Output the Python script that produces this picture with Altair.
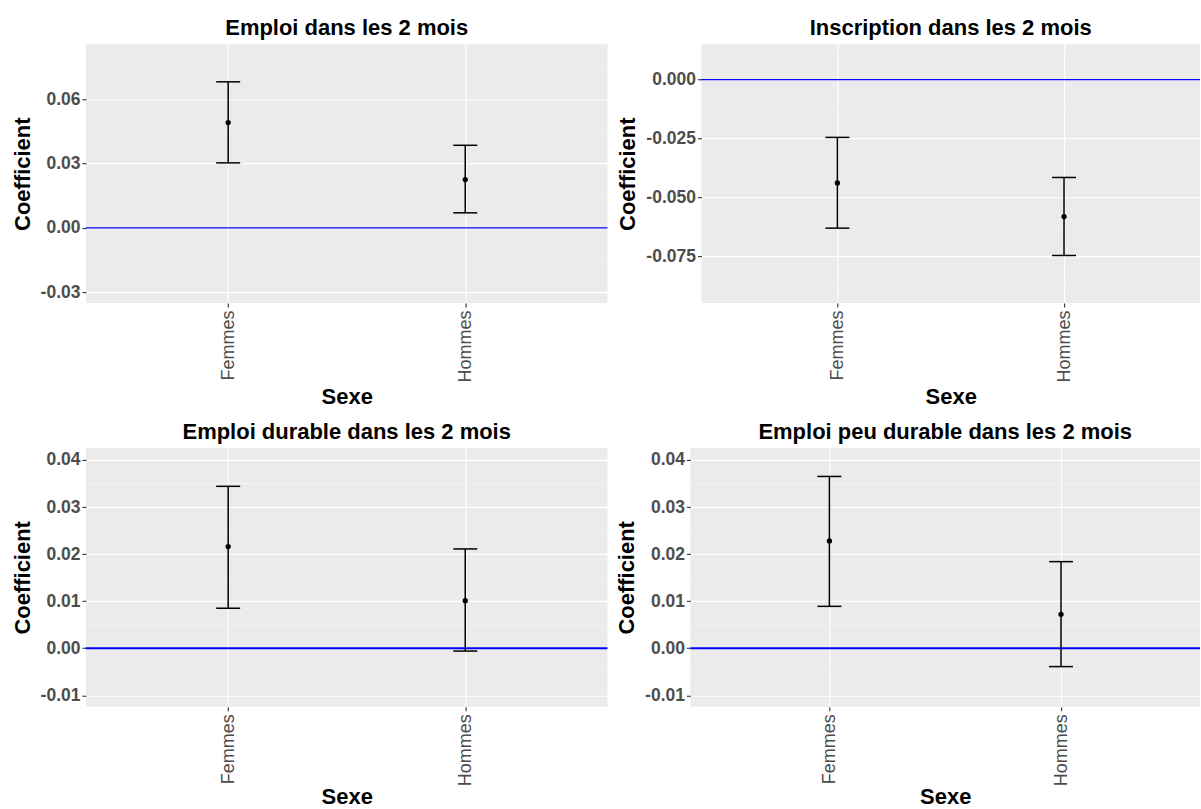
import altair as alt
import pandas as pd

FONT = "Liberation Sans"

sexe = ["Femmes", "Hommes"]

titles = [
    "Emploi dans les 2 mois",
    "Inscription dans les 2 mois",
    "Emploi durable dans les 2 mois",
    "Emploi peu durable dans les 2 mois",
]

# point estimates and confidence bounds, per outcome (Femmes, Hommes)
coef_emploi = [0.0491, 0.0225]
low_emploi = [0.0303, 0.0070]
high_emploi = [0.0681, 0.0385]

coef_inscription = [-0.0438, -0.0581]
low_inscription = [-0.0630, -0.0746]
high_inscription = [-0.0245, -0.0415]

coef_durable = [0.0216, 0.0101]
low_durable = [0.0085, -0.0006]
high_durable = [0.0344, 0.0211]

coef_peu_durable = [0.0228, 0.0072]
low_peu_durable = [0.0089, -0.0039]
high_peu_durable = [0.0365, 0.0184]

# y-axis tick values for each panel
ticks_emploi = [-0.03, 0.0, 0.03, 0.06]
ticks_inscription = [-0.075, -0.05, -0.025, 0.0]
ticks_durable = [-0.01, 0.0, 0.01, 0.02, 0.03, 0.04]

PANEL_H = 259


def panel(title, coef, low, high, ticks, domain, fmt, width, zero_width, x_title_pad):
    df = pd.DataFrame({"Sexe": sexe, "coef": coef, "low": low, "high": high})
    step = ticks[1] - ticks[0]
    minors = [t - step / 2 for t in ticks] + [ticks[-1] + step / 2]
    minors = [m for m in minors if domain[0] <= m <= domain[1]]

    yscale = alt.Scale(domain=domain, nice=False, zero=False)
    yaxis = alt.Axis(
        values=ticks,
        title="Coefficient",
        labelExpr=f"replace(format(datum.value, '{fmt}'), '\u2212', '-')",
    )
    xscale = alt.Scale(type="point", padding=0.6)
    xaxis = alt.Axis(title="Sexe", labelAngle=-90, titlePadding=x_title_pad)
    x = alt.X("Sexe:N", scale=xscale, sort=sexe, axis=xaxis)

    minor = (
        alt.Chart(pd.DataFrame({"m": minors}))
        .mark_rule(color="#F7F7F7", strokeWidth=0.6)
        .encode(y=alt.Y("m:Q", scale=yscale, axis=yaxis))
    )
    zero = (
        alt.Chart(pd.DataFrame({"z": [0.0]}))
        .mark_rule(color="#0000FF", strokeWidth=zero_width)
        .encode(y=alt.Y("z:Q", scale=yscale, axis=yaxis))
    )
    base = alt.Chart(df)
    bar = base.mark_rule(color="black", strokeWidth=1.5).encode(
        x=x, y=alt.Y("low:Q", scale=yscale, axis=yaxis), y2="high:Q"
    )
    cap_low = base.mark_tick(color="black", size=24, thickness=1.5, orient="horizontal", opacity=1).encode(
        x=x, y=alt.Y("low:Q", scale=yscale, axis=yaxis)
    )
    cap_high = base.mark_tick(color="black", size=24, thickness=1.5, orient="horizontal", opacity=1).encode(
        x=x, y=alt.Y("high:Q", scale=yscale, axis=yaxis)
    )
    point = base.mark_circle(color="black", size=28, opacity=1).encode(
        x=x, y=alt.Y("coef:Q", scale=yscale, axis=yaxis)
    )
    return alt.layer(minor, zero, bar, cap_low, cap_high, point).properties(
        width=width,
        height=PANEL_H,
        title=alt.TitleParams(
            title,
            fontSize=22,
            fontWeight="bold",
            font=FONT,
            color="black",
            anchor="middle",
            frame="group",
            offset=4,
        ),
    )


p1 = panel(titles[0], coef_emploi, low_emploi, high_emploi, ticks_emploi,
           [-0.0351, 0.0856], ".2f", 522, 1.2, 4)
p2 = panel(titles[1], coef_inscription, low_inscription, high_inscription, ticks_inscription,
           [-0.0948, 0.0150], ".3f", 499, 1.2, 4)
p3 = panel(titles[2], coef_durable, low_durable, high_durable, ticks_durable,
           [-0.01243, 0.04255], ".2f", 522, 2, 1)
p4 = panel(titles[3], coef_peu_durable, low_peu_durable, high_peu_durable, ticks_durable,
           [-0.01243, 0.04255], ".2f", 510, 2, 1)

top = alt.hconcat(p1, p2, spacing=94, bounds="flush")
bottom = alt.hconcat(p3, p4, spacing=83, bounds="flush")

chart = (
    alt.vconcat(top, bottom, spacing=13)
    .properties(padding={"left": 11, "top": 17, "right": 0, "bottom": 0})
    .configure_view(fill="#EBEBEB", stroke=None)
    .configure_axis(
        domain=False,
        grid=True,
        gridColor="white",
        gridWidth=1.2,
        tickColor="#333333",
        tickSize=4,
        tickWidth=1.1,
        labelFont=FONT,
        titleFont=FONT,
        titleColor="black",
        titleFontWeight="bold",
        titleFontSize=22,
        labelColor="#4D4D4D",
    )
    .configure_axisY(labelFontSize=17.5, labelFontWeight="bold", labelPadding=2, titlePadding=6)
    .configure_axisX(labelFontSize=18, labelFontWeight="normal", labelPadding=3)
)

chart.save("out.html", embed_options={"renderer": "svg", "actions": False})
